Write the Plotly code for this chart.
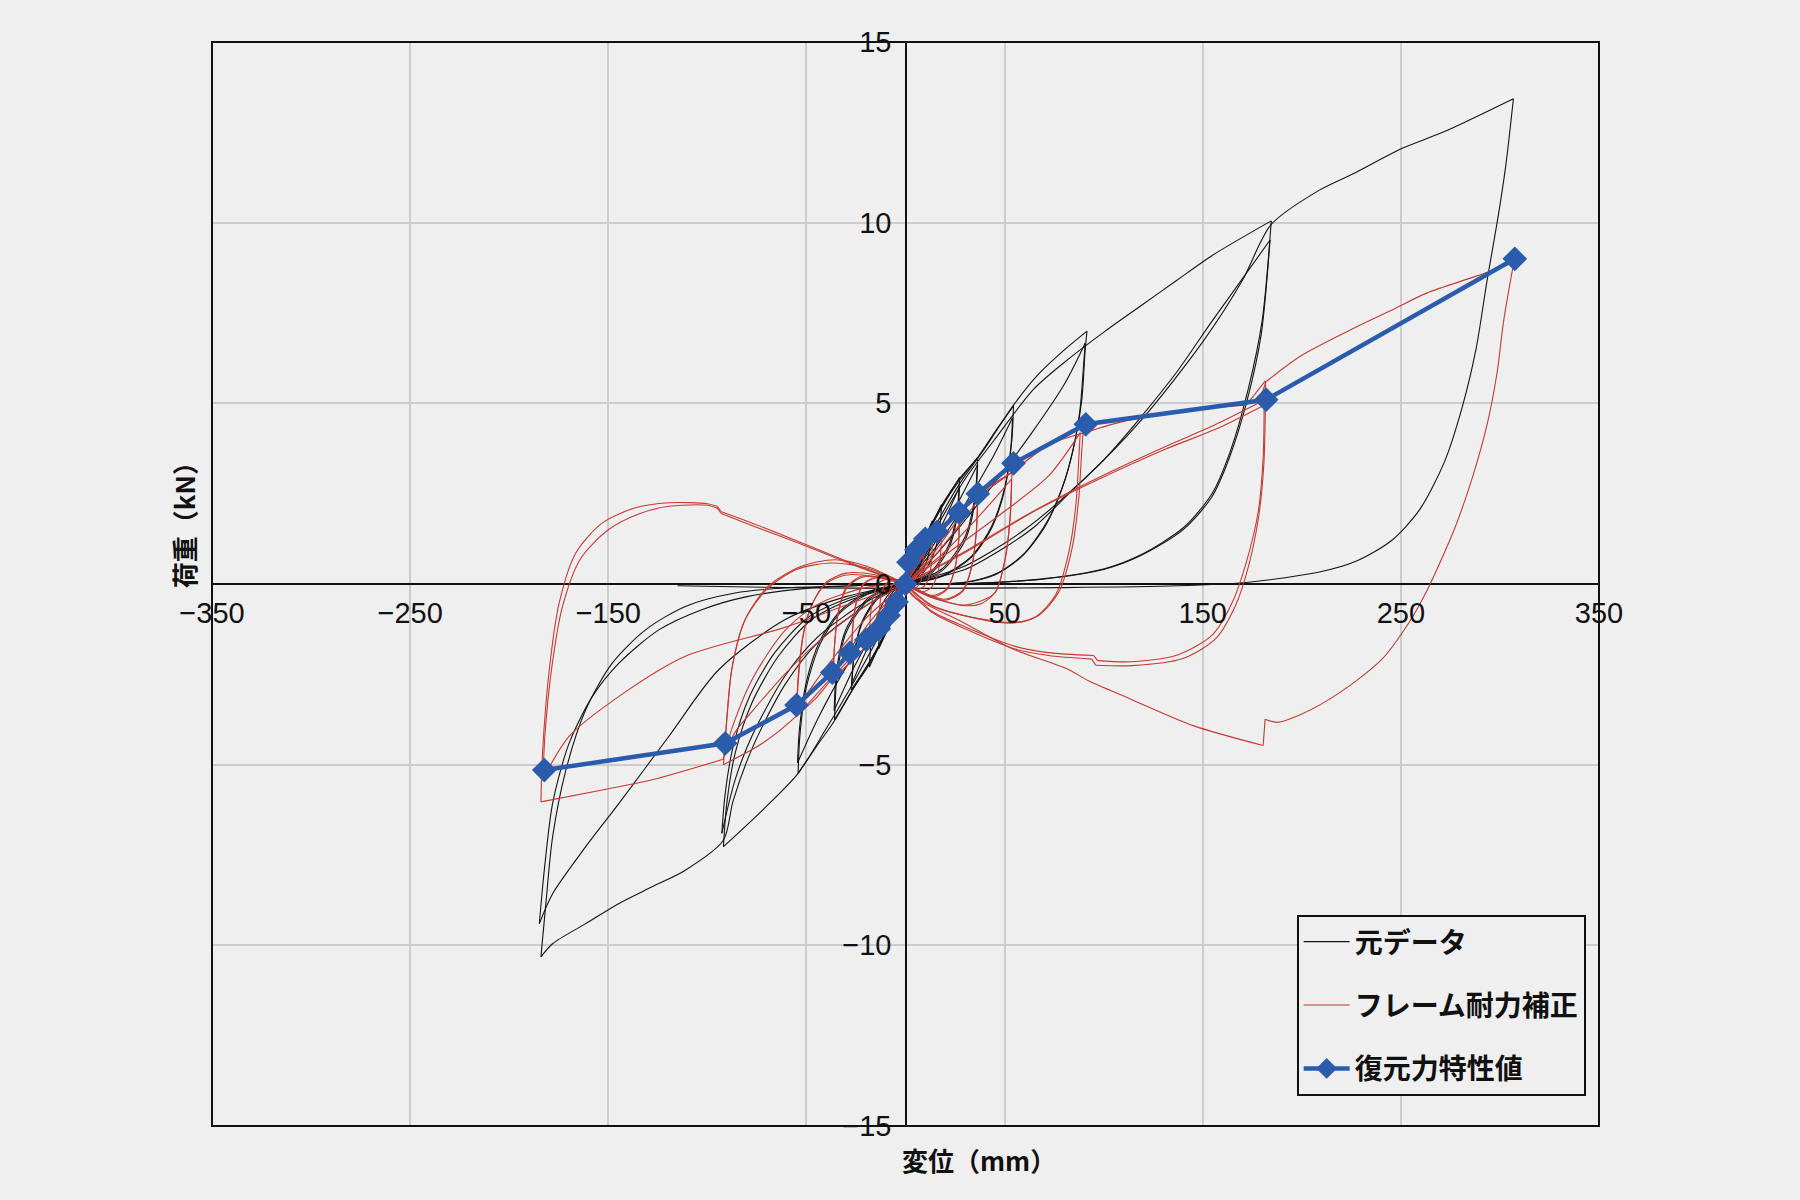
import plotly.graph_objects as go

N = None

# ---------------- raw data (元データ) : branches separated by None ----------------
raw_a09_x = [0, 3, 6, 9.1, N, 9.1, 8.5, 7, 4, 0, N, 0, -3, -6, -9.1, N, -9.1, -8.5, -7, -4, 0]
raw_a09_y = [0, 0.5, 0.9, 1.25, N, 1.25, 0.8, 0.45, 0.15, 0, N, 0, -0.5, -0.95, -1.3, N, -1.3, -0.85, -0.45, -0.15, 0]

raw_a13_x = [0, 4, 9, 13.6, N, 13.6, 12.8, 10.5, 6, 0, N, 0, -4, -9, -13.6, N, -13.6, -12.8, -10.5, -6, 0]
raw_a13_y = [0, 0.6, 1.2, 1.75, N, 1.75, 1.15, 0.6, 0.2, 0, N, 0, -0.6, -1.25, -1.8, N, -1.8, -1.2, -0.65, -0.2, 0]

raw_a18_x = [0, 5, 12, 18.2, N, 18.2, 17.2, 14, 8, 0, N, 0, -5, -12, -18.2, N, -18.2, -17.2, -14, -8, 0]
raw_a18_y = [0, 0.7, 1.5, 2.2, N, 2.2, 1.5, 0.8, 0.25, 0, N, 0, -0.75, -1.55, -2.3, N, -2.3, -1.55, -0.85, -0.25, 0]

raw_a27_x = [0, 7, 16, 27.3, N, 27.3, 26, 22, 13, 0, N, 0, -7, -16, -27.4, N, -27.4, -26, -22, -13, 0, N,
             0, 10, 19, 27.3, N, 27.3, 26, 22, 13, 0, N, 0, -10, -19, -27, N, -27, -25.8, -22, -13, 0]
raw_a27_y = [0, 0.9, 1.9, 2.95, N, 2.95, 2.0, 1.1, 0.35, 0, N, 0, -0.95, -1.95, -2.93, N, -2.93, -2.0, -1.1, -0.35, 0, N,
             0, 0.8, 1.7, 2.7, N, 2.7, 1.85, 1.0, 0.3, 0, N, 0, -0.8, -1.75, -2.75, N, -2.75, -1.9, -1.05, -0.3, 0]

raw_a36_x = [0, 9, 18, 27, 36.4, N, 36.4, 35, 30, 18, 0, N, 0, -9, -18, -27, -35.8, N, -35.8, -34.5, -30, -18, 0, N,
             0, 12, 25, 36.4, N, 36.4, 35, 30, 18, 0, N, 0, -12, -25, -36, N, -36, -34.7, -30, -18, 0]
raw_a36_y = [0, 1.15, 2.1, 2.85, 3.5, N, 3.5, 2.4, 1.3, 0.4, 0, N, 0, -1.2, -2.15, -2.95, -3.76, N, -3.76, -2.5, -1.35, -0.4, 0, N,
             0, 0.9, 2.1, 3.3, N, 3.3, 2.25, 1.2, 0.35, 0, N, 0, -0.95, -2.2, -3.5, N, -3.5, -2.35, -1.25, -0.35, 0]

raw_a54_x = [0, 9, 18, 27, 36.4, 45, 54.5, N, 54.5, 53.7, 50.3, 43.6, 33.5, 18.3, 0, N,
             0, -9, -18, -27, -36, -45, -54.2, N, -54.2, -53.3, -50, -43, -33, -18, 0, N,
             0, 15, 30, 44, 54, N, 54, 53.2, 50, 43.5, 33.5, 18, 0, N,
             0, -15, -30, -44, -54.5, N, -54.5, -53.5, -50, -43, -33, -18, 0]
raw_a54_y = [0, 1.2, 2.15, 2.9, 3.5, 4.2, 4.93, N, 4.93, 4.0, 2.72, 1.61, 0.78, 0.23, 0, N,
             0, -1.25, -2.2, -2.95, -3.8, -4.5, -5.24, N, -5.24, -4.2, -2.85, -1.65, -0.8, -0.25, 0, N,
             0, 1.0, 2.2, 3.5, 4.6, N, 4.6, 3.8, 2.6, 1.55, 0.75, 0.2, 0, N,
             0, -1.05, -2.3, -3.7, -4.95, N, -4.95, -4.0, -2.7, -1.55, -0.75, -0.2, 0]

raw_a91_x = [0, 13, 27, 40, 54.5, 67, 80.6, 91.6, N, 91.6, 90.7, 89, 85.7, 80.6, 72.2, 60.4, 47, 30, 0, N,
             0, -13, -27, -40, -54.2, -72, -91.9, N, -91.9, -90.2, -86, -77.6, -64.2, -47.5, -27.4, 0, N,
             0, 13.3, 38.6, 63.8, 80.6, 90.7, N, 90.7, 89.8, 88, 84.5, 79, 70.5, 58.5, 45, 28, 0, N,
             0, -20, -44, -61, -77.6, -86, -92.7, N, -92.7, -91, -87, -79, -66, -49, -28, 0]
raw_a91_y = [0, 1.4, 2.75, 3.75, 4.95, 5.8, 6.5, 7.0, N, 7.0, 6.49, 5.11, 4.0, 2.9, 1.8, 0.87, 0.32, 0.05, 0, N,
             0, -1.4, -2.8, -4.0, -5.24, -6.25, -7.27, N, -7.27, -6.07, -4.69, -3.3, -2.0, -0.99, -0.43, 0, N,
             0, 0.69, 2.35, 4.19, 5.57, 6.67, N, 6.67, 6.0, 4.8, 3.7, 2.65, 1.6, 0.75, 0.25, 0.03, 0, N,
             0, -0.5, -1.45, -2.56, -4.22, -5.42, -6.9, N, -6.9, -5.8, -4.5, -3.15, -1.9, -0.92, -0.38, 0]

raw_a182_x = [0, 15, 30, 45, 64.8, 82.8, 100.8, 118.8, 136.8, 155, 184.6, N,
              184.6, 180, 172.9, 163.9, 154.9, 140.5, 118.8, 100.8, 70, 35, 0, N,
              0, -20, -44, -61, -77, -87, -92, -111.1, -127.9, -144.6, -161.4, -178, -184, N,
              -184, -181.5, -178.1, -171.4, -161.4, -148, -131.2, -111.1, -86, -60.9, -27.4, 0, N,
              0, 30, 46.8, 64.8, 82.8, 100.8, 118.8, 136.8, 154.9, 184, N,
              184, 179.5, 172.5, 163.5, 154.5, 140, 118.5, 100.5, 70, 35, 0, N,
              0, -30, -60.9, -94.4, -119.5, -144.6, -161.4, -178.1, -184.8, N,
              -184.8, -182.3, -178.1, -169.8, -158, -144.6, -124.5, -102.8, -80, -50, 0]
raw_a182_y = [0, 1.5, 2.9, 4.0, 5.4, 6.25, 7.0, 7.7, 8.4, 9.1, 10.05, N,
              10.05, 7.29, 5.38, 3.67, 2.52, 1.57, 0.81, 0.43, 0.15, 0.02, 0, N,
              0, -0.6, -1.6, -2.8, -4.5, -6.0, -7.1, -7.92, -8.38, -8.84, -9.4, -9.95, -10.32, N,
              -10.32, -8.84, -7.0, -5.15, -3.48, -2.19, -1.27, -0.62, -0.25, -0.11, -0.05, 0, N,
              0, 0.4, 0.9, 1.57, 2.52, 3.48, 4.62, 5.86, 7.29, 9.52, N,
              9.52, 6.9, 5.1, 3.5, 2.4, 1.5, 0.78, 0.41, 0.14, 0.02, 0, N,
              0, -0.35, -0.99, -2.38, -4.22, -6.07, -7.27, -8.57, -9.4, N,
              -9.4, -7.92, -6.07, -4.41, -3.11, -2.19, -1.27, -0.71, -0.35, -0.12, 0]

raw_a308_x = [0, 30, 60, 90, 120, 150, 170, 184.6, 208.9, 227, 250.4, 272, 306.8, N,
              306.8, 303, 299, 293.6, 288, 281, 272, 259.4, 245, 227, 208.9, 173, 137, 80, 0, -60, -115]
raw_a308_y = [0, 0.5, 1.5, 2.9, 4.6, 6.7, 8.4, 9.95, 10.9, 11.38, 12.05, 12.52, 13.43, N,
              13.43, 11.6, 10.14, 8.43, 6.52, 4.9, 3.38, 2.05, 1.19, 0.62, 0.33, 0.05, -0.05, -0.1, -0.12, -0.1, -0.05]

# ---------------- frame-corrected data (フレーム耐力補正) ----------------
red_a09_x = [0, 4.5, 9.1, N, 9.1, 8.8, 7.8, 5, 0, N, 0, -4.5, -9.1, N, -9.1, -8.8, -7.8, -5, 0]
red_a09_y = [0, 0.5, 0.95, N, 0.95, 0.5, 0.1, -0.1, 0, N, 0, -0.52, -1.0, N, -1.0, -0.55, -0.15, 0.05, 0]

red_a13_x = [0, 6.8, 13.6, N, 13.6, 13.2, 12, 9, 5, 0, N, 0, -6.8, -13.6, N, -13.6, -13.2, -12, -9, -4, 0]
red_a13_y = [0, 0.65, 1.25, N, 1.25, 0.7, 0.2, -0.08, -0.15, 0, N, 0, -0.68, -1.3, N, -1.3, -0.75, -0.25, 0.05, 0.1, 0]

red_a18_x = [0, 9, 18.2, N, 18.2, 17.8, 16.3, 13, 8, 0, N, 0, -9, -18.2, N, -18.2, -17.8, -16.3, -13, -7, 0]
red_a18_y = [0, 0.8, 1.5, N, 1.5, 0.9, 0.3, -0.1, -0.22, 0, N, 0, -0.85, -1.6, N, -1.6, -0.95, -0.35, 0.05, 0.15, 0]

red_a27_x = [0, 9, 18, 27.3, N, 27.3, 26.8, 24.8, 21, 14, 5, 0, N, 0, -9, -18, -27.3, N, -27.3, -26.8, -25, -21.5, -14, -5, 0, N,
             0, 12, 27.3, N, 27.3, 26.7, 24.6, 20.5, 13.5, 5, 0, N, 0, -12, -27.3, N, -27.3, -26.7, -24.8, -21, -13.5, 0]
red_a27_y = [0, 0.85, 1.5, 2.0, N, 2.0, 1.2, 0.4, -0.15, -0.35, -0.15, 0, N, 0, -0.9, -1.6, -2.15, N, -2.15, -1.35, -0.55, 0, 0.2, 0.1, 0, N,
             0, 0.7, 1.85, N, 1.85, 1.1, 0.35, -0.15, -0.32, -0.12, 0, N, 0, -0.75, -2.0, N, -2.0, -1.25, -0.5, 0, 0.18, 0]

red_a36_x = [0, 9, 18, 27.3, 36.4, N, 36.4, 35.8, 33.5, 29, 20, 8, 0, N, 0, -9, -18, -27.3, -36.5, N, -36.5, -35.8, -34, -30, -22, -10, 0, N,
             0, 15, 36.4, N, 36.4, 35.7, 33.3, 28.5, 19.5, 8, 0, N, 0, -15, -36.5, N, -36.5, -35.7, -33.8, -29.5, -21, 0]
red_a36_y = [0, 0.85, 1.5, 2.0, 2.45, N, 2.45, 1.5, 0.5, -0.2, -0.45, -0.25, 0, N, 0, -0.9, -1.6, -2.15, -2.6, N, -2.6, -1.7, -0.8, -0.1, 0.22, 0.15, 0, N,
             0, 0.8, 2.3, N, 2.3, 1.4, 0.45, -0.2, -0.42, -0.22, 0, N, 0, -0.85, -2.45, N, -2.45, -1.6, -0.75, -0.1, 0.2, 0]

red_a54_x = [0, 9, 18, 27.3, 36.4, 45, 53.7, N, 53.7, 52.9, 50.3, 45.3, 38, 30.1, 12, 0, N,
             0, -9, -18, -27.3, -36.5, -45, -55, N, -55, -54, -51.5, -47.5, -40, -30, -15, 0, N,
             0, 20, 40, 53.5, N, 53.5, 52.7, 50, 45, 30, 12, 0, N,
             0, -20, -40, -55, N, -55, -54, -51.3, -47, -40, -30, -15, 0]
red_a54_y = [0, 0.85, 1.5, 2.0, 2.45, 2.8, 3.08, N, 3.08, 1.89, 0.69, -0.23, -0.55, -0.6, -0.35, 0, N,
             0, -0.9, -1.6, -2.15, -2.6, -3.15, -3.65, N, -3.65, -2.6, -1.4, -0.6, 0.05, 0.3, 0.25, 0, N,
             0, 0.9, 2.05, 2.9, N, 2.9, 1.8, 0.62, -0.25, -0.58, -0.33, 0, N,
             0, -0.95, -2.3, -3.45, N, -3.45, -2.45, -1.3, -0.55, 0.02, 0.25, 0.2, 0]

red_a91_x = [0, 13, 27, 40, 53.7, 72, 89.9, N, 89.9, 89, 87.4, 84, 77.3, 67.2, 55.4, 38.6, 13.3, 0, N,
             0, -13, -27, -40, -55, -72, -91.9, N, -91.9, -90.2, -87.7, -81, -69.3, -52.5, -35.8, -20, 0, N,
             0, 21.7, 47, 72.2, 88.2, N, 88.2, 87.5, 86, 82.5, 76, 66, 54.5, 38, 13, 0, N,
             0, -20, -44, -61, -77, -86, -91.5, N, -91.5, -90, -87.5, -81, -70, -55, -38, -20, 0]
red_a91_y = [0, 1.1, 1.95, 2.55, 3.1, 3.85, 4.37, N, 4.37, 3.73, 2.35, 0.97, -0.23, -0.87, -1.06, -0.97, -0.6, 0, N,
             0, -1.0, -2.0, -2.75, -3.65, -4.4, -5.0, N, -5.0, -3.76, -2.38, -0.99, -0.06, 0.49, 0.67, 0.5, 0, N,
             0, 0.87, 1.89, 2.99, 4.19, N, 4.19, 3.5, 2.2, 0.9, -0.28, -0.9, -1.08, -0.98, -0.58, 0, N,
             0, -0.6, -1.6, -2.5, -3.5, -4.1, -4.75, N, -4.75, -3.6, -2.3, -1.0, -0.15, 0.4, 0.58, 0.45, 0]

red_a182_x = [0, 13, 27, 40, 54, 72, 91, 110, 130, 150, 172, N, 172, 181.6, N,
              181.6, 181.6, 180.8, 178.3, 173.2, 166.5, 156.4, 139.6, 114.3, 96, N, 96, 94, N,
              94, 72.2, 55.4, 30.1, 13.3, 2.5, 0, N,
              0, -20, -44, -61, -77, -87, -92, N, -92, -127.9, -153, -184, N,
              -184, -183.2, -179.8, -174.8, -166.4, -153, -136.3, -119.5, -100, -95, N, -95, -93, N,
              -93, -77.6, -52.5, -27.4, -5.6, 0, N,
              0, 30.1, 63.8, 97.5, 131.1, 156.4, 181, N,
              181, 180.5, 178, 172, 165, 155, 138, 114, 97, N, 97, 95, N, 95, 72, 55, 30, 13, 0, N,
              0, -27.4, -60.9, -111.1, -144.6, -169.8, -183, N,
              -183, -182, -178.5, -173, -164, -150, -134, -119.5, -100, -95, N, -95, -93, N, -93, -77.6, -52.5, -27.4, 0]
red_a182_y = [0, 1.1, 1.95, 2.55, 3.1, 3.85, 4.2, 4.5, 4.7, 4.85, 4.95, N, 4.95, 5.62, N,
              5.62, 4.83, 3.27, 1.89, 0.51, -0.6, -1.52, -2.07, -2.26, -2.25, N, -2.25, -2.08, N,
              -2.08, -1.98, -1.8, -1.24, -0.78, -0.23, 0, N,
              0, -0.1, -0.55, -1.3, -2.6, -3.9, -4.85, N, -4.85, -5.42, -5.7, -6.03, N,
              -6.03, -4.69, -2.38, -0.53, 0.86, 1.69, 2.11, 2.25, 2.22, 2.15, N, 2.15, 2.0, N,
              2.0, 1.69, 1.14, 0.58, 0.12, 0, N,
              0, 0.87, 1.98, 2.9, 3.73, 4.28, 4.95, N,
              4.95, 3.5, 2.0, 0.6, -0.5, -1.4, -1.95, -2.15, -2.12, N, -2.12, -1.98, N, -1.98, -1.9, -1.72, -1.18, -0.74, 0, N,
              0, -0.53, -1.2, -2.0, -3.11, -4.22, -5.4, N,
              -5.4, -4.2, -2.3, -0.6, 0.7, 1.5, 1.95, 2.15, 2.18, 2.1, N, 2.1, 1.95, N, 1.95, 1.62, 1.1, 0.55, 0]

red_a308_x = [0, 30, 64, 97.5, 131, 156, 178, N, 178, 182, N, 182, 200, 227, 245, 263, 288, 307, N,
              307, 301.9, 298.6, 293.6, 286.4, 277.4, 268.4, 263, 254.2, 240.5, 219.3, 200, 187.6, 181.5, N,
              181.5, 180.5, N, 180.5, 145.2, 113.5, 92.3, 81.7, 54.2, 28.8, 3.4, 0]
red_a308_y = [0, 0.9, 2.0, 2.95, 3.8, 4.4, 5.0, N, 5.0, 5.6, N, 5.6, 6.33, 7.1, 7.57, 8.05, 8.52, 8.9, N,
              8.9, 7.29, 5.86, 4.43, 3.0, 1.57, 0.43, -0.2, -1.06, -2.08, -3.0, -3.6, -3.83, -3.74, N,
              -3.74, -4.47, N, -4.47, -3.92, -3.18, -2.68, -2.35, -1.8, -1.06, -0.32, 0]

# ---------------- skeleton (復元力特性値) ----------------
skel_x = [-182.3, -91.0, -55.0, -37.0, -28.0, -19.8, -13.5, -8.5, -4.5, 0.0,
          1.5, 5.5, 10.0, 16.0, 27.0, 36.5, 54.5, 91.0, 182.0, 307.5]
skel_y = [-5.15, -4.41, -3.35, -2.45, -1.9, -1.55, -1.24, -0.87, -0.5, 0.0,
          0.6, 0.95, 1.25, 1.44, 1.98, 2.5, 3.34, 4.42, 5.1, 9.0]

# ---------------- axes ----------------
x_ticks = [-350, -250, -150, -50, 50, 150, 250, 350]
y_ticks = [-15, -10, -5, 0, 5, 10, 15]
x_title = "変位（mm）"
y_title = "荷重（kN）"
names = ["元データ", "フレーム耐力補正", "復元力特性値"]


def join(parts):
    out = []
    for i, p in enumerate(parts):
        if i:
            out.append(None)
        out.extend(p)
    return out


def fmt(v):
    return str(v).replace("-", "\u2212")


raw_x = join([raw_a09_x, raw_a13_x, raw_a18_x, raw_a27_x, raw_a36_x, raw_a54_x, raw_a91_x, raw_a182_x, raw_a308_x])
raw_y = join([raw_a09_y, raw_a13_y, raw_a18_y, raw_a27_y, raw_a36_y, raw_a54_y, raw_a91_y, raw_a182_y, raw_a308_y])
red_x = join([red_a09_x, red_a13_x, red_a18_x, red_a27_x, red_a36_x, red_a54_x, red_a91_x, red_a182_x, red_a308_x])
red_y = join([red_a09_y, red_a13_y, red_a18_y, red_a27_y, red_a36_y, red_a54_y, red_a91_y, red_a182_y, red_a308_y])

BG = "#efefef"
NUMFONT = "Liberation Sans Narrow, Arial Narrow, Liberation Sans, sans-serif"
JPFONT = "Noto Sans CJK JP, Noto Sans, sans-serif"

fig = go.Figure()
fig.add_trace(go.Scatter(x=raw_x, y=raw_y, mode="lines", name=names[0], legendgroup="a",
                         connectgaps=False,
                         line=dict(color="#141414", width=1.1, shape="spline", smoothing=0.8)))
fig.add_trace(go.Scatter(x=red_x, y=red_y, mode="lines", name=names[1], legendgroup="b",
                         connectgaps=False,
                         line=dict(color="#c43a33", width=1.1, shape="spline", smoothing=0.8)))
fig.add_trace(go.Scatter(x=skel_x, y=skel_y, mode="lines+markers", name=names[2], legendgroup="c",
                         line=dict(color="#2b5cab", width=4.5),
                         marker=dict(symbol="diamond", size=19, color="#2b5cab")))

fig.update_layout(
    width=1800, height=1200,
    paper_bgcolor=BG, plot_bgcolor=BG,
    margin=dict(l=212, r=201, t=42, b=74),
    showlegend=True,
    legend=dict(x=0.782, y=0.1947, xanchor="left", yanchor="top",
                bgcolor=BG, bordercolor="#111", borderwidth=2,
                font=dict(family=JPFONT, size=28, color="#111", weight="bold"),
                itemwidth=46, tracegroupgap=24, traceorder="grouped"),
    xaxis=dict(range=[-350, 350], tickvals=x_ticks, ticktext=[fmt(v) for v in x_ticks],
               showgrid=True, gridcolor="#cccccc", gridwidth=1.5,
               zeroline=True, zerolinecolor="#111", zerolinewidth=1.6,
               showline=False, ticks="", anchor="free", position=0.5,
               ticklabelstandoff=9,
               tickfont=dict(family=NUMFONT, size=29, color="#111")),
    yaxis=dict(range=[-15, 15], tickvals=y_ticks, ticktext=[fmt(v) for v in y_ticks],
               showgrid=True, gridcolor="#cccccc", gridwidth=1.5,
               zeroline=True, zerolinecolor="#111", zerolinewidth=1.6,
               showline=False, ticks="", anchor="free", position=0.5,
               ticklabelstandoff=14,
               tickfont=dict(family=NUMFONT, size=29, color="#111")),
    shapes=[dict(type="rect", xref="paper", yref="paper", x0=0, x1=1, y0=0, y1=1,
                 line=dict(color="#111", width=2), layer="above")],
    annotations=[
        dict(text=x_title, xref="paper", yref="paper", x=0.553, y=-0.031,
             xanchor="center", yanchor="middle", showarrow=False,
             font=dict(family=JPFONT, size=26, color="#111", weight="bold")),
        dict(text=y_title, xref="paper", yref="paper", x=-0.020, y=0.56,
             xanchor="center", yanchor="middle", showarrow=False, textangle=-90,
             font=dict(family=JPFONT, size=26, color="#111", weight="bold")),
    ],
)

fig.write_html("out.html", config={"displayModeBar": False},
               post_script="document.body.style.margin='0';")
